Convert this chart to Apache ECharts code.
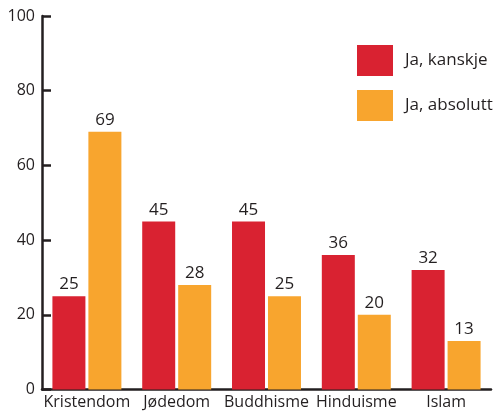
<!DOCTYPE html>
<html>
<head>
<meta charset="utf-8">
<script src="https://cdn.jsdelivr.net/npm/echarts@6/dist/echarts.min.js"></script>
<style>
  html, body { margin: 0; padding: 0; background: #fff; }
  #chart { width: 496px; height: 412px; }
</style>
</head>
<body>
<div id="chart"></div>
<script>
var categories = ['Kristendom', 'Jødedom', 'Buddhisme', 'Hinduisme', 'Islam']
var kanskje = [25, 45, 45, 36, 32]
var absolutt = [69, 28, 25, 20, 13]
var yTicks = [0, 20, 40, 60, 80, 100]

var ink = '#231f20'
var font = 'Open Sans'

var chart = echarts.init(document.getElementById('chart'))

function barSeries(name, data, color) {
  return {
    name: name,
    type: 'bar',
    data: data,
    barWidth: 33,
    barGap: '9%',
    itemStyle: { color: color },
    label: {
      show: true,
      position: 'top',
      distance: 3,
      color: ink,
      fontFamily: font,
      fontSize: 17
    }
  }
}

chart.setOption({
  animation: false,
  textStyle: { fontFamily: font },
  grid: { left: 42, right: 5, top: 16, bottom: 22.5 },
  legend: {
    orient: 'vertical',
    left: 357,
    top: 45,
    padding: 0,
    icon: 'rect',
    itemWidth: 36,
    itemHeight: 31,
    itemGap: 14,
    textStyle: { color: ink, fontFamily: font, fontSize: 17, padding: [0, 0, 0, 7] },
    data: ['Ja, kanskje', 'Ja, absolutt']
  },
  xAxis: {
    type: 'category',
    data: categories,
    axisLine: { lineStyle: { color: ink, width: 2.5 } },
    axisTick: { inside: true, length: 8, lineStyle: { color: ink, width: 2.5 } },
    axisLabel: { color: ink, fontFamily: font, fontSize: 16, margin: 5, interval: 0 }
  },
  yAxis: {
    type: 'value',
    min: yTicks[0],
    max: yTicks[yTicks.length - 1],
    interval: yTicks[1] - yTicks[0],
    splitLine: { show: false },
    axisLine: { show: true, lineStyle: { color: ink, width: 2.5 } },
    axisTick: { show: true, inside: true, length: 9, lineStyle: { color: ink, width: 2.5 } },
    axisLabel: { color: ink, fontFamily: font, fontSize: 16, margin: 7 }
  },
  series: [
    barSeries('Ja, kanskje', kanskje, '#d92231'),
    barSeries('Ja, absolutt', absolutt, '#f8a52e')
  ]
})
</script>
</body>
</html>
